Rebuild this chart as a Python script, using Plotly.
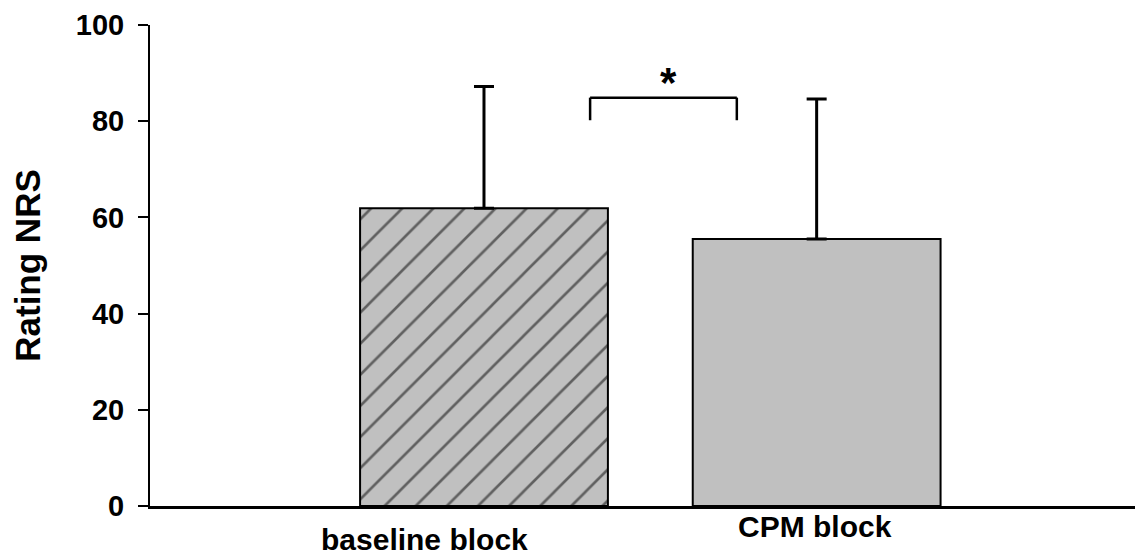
import plotly.graph_objects as go

categories = ["baseline block", "CPM block"]
means = [61.9, 55.5]
sd_upper = [25.3, 29.1]
patterns = ["/", ""]
bracket_x = [0.319, 0.760]
bracket_y_top = 84.9
bracket_y_bottom = 80.2
sig_label = "*"
y_ticks = [0, 20, 40, 60, 80, 100]

FONT = "Liberation Sans, Arial, sans-serif"
x_pos = list(range(len(categories)))

fig = go.Figure()
fig.add_trace(go.Bar(
    x=x_pos, y=means,
    marker=dict(color="#c0c0c0", line=dict(color="black", width=2),
                pattern=dict(shape=patterns, fgcolor="black", bgcolor="#c0c0c0",
                             size=22, solidity=0.12)),
    error_y=dict(type="data", symmetric=False, array=sd_upper,
                 arrayminus=[0] * len(means), color="black", thickness=3, width=10),
    width=0.745, showlegend=False,
))

# significance bracket
for (xa, xb, ya, yb) in [
    (bracket_x[0], bracket_x[0], bracket_y_bottom, bracket_y_top),
    (bracket_x[0], bracket_x[1], bracket_y_top, bracket_y_top),
    (bracket_x[1], bracket_x[1], bracket_y_bottom, bracket_y_top),
]:
    fig.add_shape(type="line", x0=xa, x1=xb, y0=ya, y1=yb,
                  line=dict(color="black", width=2.5), xref="x", yref="y")
fig.add_annotation(x=(bracket_x[0] + bracket_x[1]) / 2 + 0.015, y=88.0, text="<b>" + sig_label + "</b>",
                   showarrow=False, yanchor="middle",
                   font=dict(family=FONT, size=42, color="black"))

# category labels (staggered as in the original)
label_y = [-0.0695, -0.0425]
label_dx = [-0.18, -0.005]
for i, c in enumerate(categories):
    fig.add_annotation(x=x_pos[i] + label_dx[i], y=label_y[i], xref="x", yref="paper",
                       text="<b>" + c + "</b>", showarrow=False, yanchor="middle",
                       font=dict(family=FONT, size=30, color="black"))

fig.update_layout(
    width=1135, height=549,
    margin=dict(l=142, r=2, t=17, b=50.5, autoexpand=False),
    plot_bgcolor="white", paper_bgcolor="white",
    font=dict(family=FONT, color="black"),
    xaxis=dict(range=[-1.004, 1.975], showticklabels=False, ticks="", showgrid=False,
               zeroline=False, showline=True, linecolor="black", linewidth=2.5,
               automargin=False),
    yaxis=dict(range=[0, 100], tickvals=y_ticks, ticktext=["<b>%d</b>" % v for v in y_ticks],
               ticks="outside", ticklen=10, tickwidth=2, tickcolor="black",
               ticklabelstandoff=8, automargin=False,
               showgrid=False, zeroline=False, showline=True, linecolor="black", linewidth=2,
               tickfont=dict(family=FONT, size=29, color="black"),
               title=dict(text="<b>Rating NRS</b>", font=dict(family=FONT, size=35, color="black"),
                          standoff=30)),
)

fig.write_html("out.html")
